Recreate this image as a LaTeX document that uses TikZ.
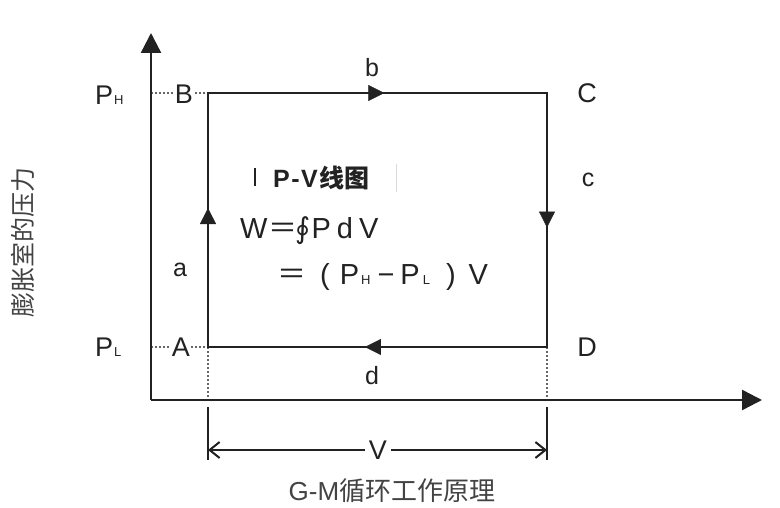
\documentclass[tikz,border=0pt]{standalone}
\usepackage{fontspec}
\setmainfont{Liberation Sans}
\newfontfamily\cjk{Noto Sans CJK SC}
\newfontfamily\symfont{DejaVu Sans}
\usetikzlibrary{arrows.meta,decorations.markings}

\definecolor{ink}{HTML}{222222}
\definecolor{guidegray}{HTML}{666666}

\tikzset{
  axisline/.style={line width=2.4pt, draw=ink, -{Triangle[length=20pt,width=20pt]}},
  cycleline/.style={line width=2.6pt, draw=ink, line cap=rect},
  midarrow/.style={postaction={decorate}, decoration={markings,
      mark=at position #1 with {\arrow[ink]{Triangle[length=16pt,width=16pt]}}}},
  guide/.style={draw=guidegray, line width=1.6pt, dash pattern=on 1.6pt off 2.4pt},
  tick/.style={draw=ink, line width=2pt},
  dimline/.style={draw=ink, line width=2pt, {Straight Barb[length=10pt,width=16pt]}-{Straight Barb[length=10pt,width=16pt]}},
  corner/.style={font=\fontsize{27}{27}\selectfont, text=ink, inner sep=1pt},
  seglbl/.style={font=\fontsize{25}{25}\selectfont, text=ink, inner sep=0pt},
  plbl/.style={font=\fontsize{27}{27}\selectfont, text=ink, inner sep=0pt},
  formula/.style={font=\fontsize{29}{29}\selectfont, text=ink, inner sep=0pt, anchor=base west},
}

\newcommand{\subsc}[1]{{\fontsize{13}{13}\selectfont #1}}

\begin{document}
\begin{tikzpicture}[x=1pt, y=-1pt]
  \useasboundingbox[fill=white] (0,0) rectangle (780,508);

  % corners of the cycle
  \coordinate (A) at (208,347);
  \coordinate (B) at (208,93);
  \coordinate (C) at (547,93);
  \coordinate (D) at (547,347);

  % axes
  \coordinate (O) at (151,400);
  \coordinate (Ytop) at (151,33);
  \coordinate (Xend) at (762,400);
  \coordinate (YB) at (151,93);
  \coordinate (YA) at (151,347);
  \coordinate (XA) at (208,400);
  \coordinate (XD) at (547,400);

  % dotted guides
  \draw[guide] (YB) -- (B);
  \draw[guide] (YA) -- (A);
  \draw[guide] (A) -- (XA);
  \draw[guide] (D) -- (XD);

  \draw[axisline] (O) -- (Ytop);
  \draw[axisline] (O) -- (Xend);

  % the cycle
  \draw[cycleline] (A) -- (B) -- (C) -- (D) -- cycle;
  \path[midarrow=0.547] (A) -- (B);
  \path[midarrow=0.52] (B) -- (C);
  \path[midarrow=0.53] (C) -- (D);
  \path[midarrow=0.537] (D) -- (A);

  % corner labels
  \node[corner, fill=white] (lB) at (184,94) {B};
  \node[corner, fill=white] (lA) at (181,347) {A};
  \node[corner] (lC) at (587,93) {C};
  \node[corner] (lD) at (587,347) {D};

  % segment labels
  \node[seglbl] (lb) at (372,68) {b};
  \node[seglbl] (lc) at (588,180) {c};
  \node[seglbl] (la) at (180,270) {a};
  \node[seglbl] (ld) at (372,376) {d};

  % pressure labels
  \node[plbl, anchor=west] (PH) at (95,95) {P\kern1pt\subsc{H}};
  \node[plbl, anchor=west] (PL) at (95,347) {P\kern1pt\subsc{L}};

  % volume dimension
  \coordinate (t1a) at (208,407);
  \coordinate (t1b) at (208,460);
  \coordinate (t2a) at (547,407);
  \coordinate (t2b) at (547,460);
  \draw[tick] (t1a) -- (t1b);
  \draw[tick] (t2a) -- (t2b);
  \coordinate (v1) at (208,450);
  \coordinate (v2) at (547,450);
  \draw[dimline] (v1) -- (v2);
  \node[font=\fontsize{27}{27}\selectfont, text=ink, fill=white, inner sep=4pt] (V) at (378,450) {V};

  % heading and work formula
  \draw[draw=ink, line width=1.6pt] (255,168) -- (255,186);
  \draw[draw=black!15, line width=1pt] (396,164) -- (396,192);
  \node[anchor=west, font=\fontsize{25}{25}\selectfont\bfseries, text=ink, inner sep=0pt] (hd) at (273,178)
    {P\kern1.5pt-\kern1.5ptV\kern2pt{\cjk\bfseries 线图}};
  \node[formula] (f1) at (240,239)
    {W\kern1pt{\cjk ＝}\kern-2pt{\symfont ∮}\kern1ptP\kern6ptd\kern6ptV};
  \node[formula] (f2) at (277,284)
    {{\cjk ＝}\kern14pt(\kern10ptP\kern2pt\subsc{H}\kern7pt−\kern6ptP\kern3pt\subsc{L}\kern16pt)\kern13ptV};

  % captions
  \node[font=\cjk\fontsize{25}{25}\selectfont, text=ink!85, rotate=90] (ylbl) at (23,242) {膨胀室的压力};
  \node[font=\fontsize{26}{26}\selectfont, text=ink!85] (title) at (392,491) {G-M{\cjk 循环工作原理}};
\end{tikzpicture}
\end{document}
